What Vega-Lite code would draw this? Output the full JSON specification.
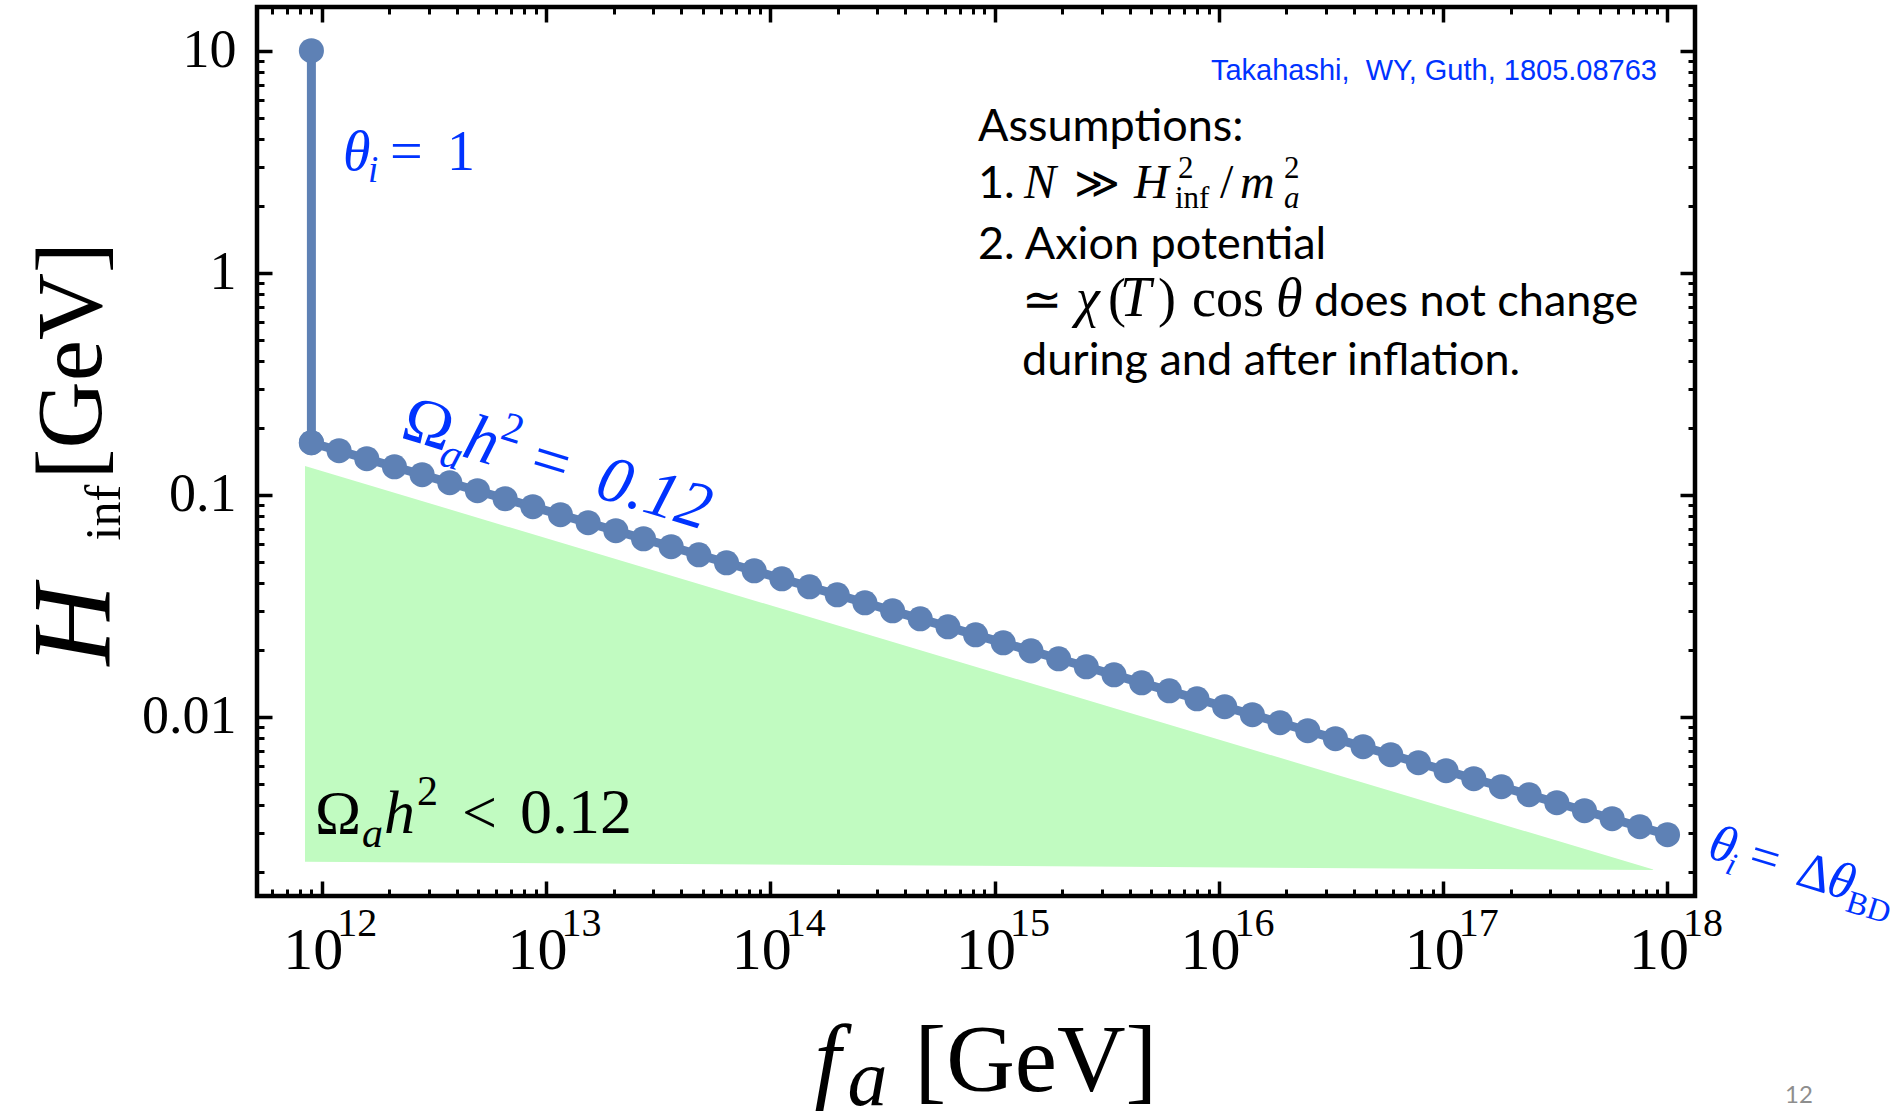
{
  "$schema": "https://vega.github.io/schema/vega-lite/v6.json",
  "width": 1438,
  "height": 889,
  "autosize": {"type": "none"},
  "padding": {"left": 257, "top": 7, "right": 202, "bottom": 216},
  "background": "white",
  "config": {
    "view": {"stroke": "black", "strokeWidth": 4.5},
    "axis": {
      "grid": false,
      "domain": false,
      "tickColor": "black",
      "labelColor": "black",
      "titleColor": "black",
      "labelFont": "Liberation Serif",
      "titleFont": "Liberation Serif",
      "titleFontWeight": "normal",
      "labelOverlap": false,
      "labelFlush": false,
      "zindex": 1
    },
    "text": {"font": "Liberation Serif", "align": "left", "baseline": "alphabetic"}
  },
  "datasets": {
    "region": [
      {"f": 8.424e11, "H": 0.1346, "Hlow": 0.002222},
      {"f": 8.796e17, "H": 0.002039, "Hlow": 0.002039}
    ],
    "curve": [
      {"part": "vertical", "f": 8.995e11, "H": 10},
      {"part": "vertical", "f": 8.995e11, "H": 0.1714},
      {"part": "chain", "f": 8.995e11, "H": 0.1714},
      {"part": "chain", "f": 1.195e12, "H": 0.1578},
      {"part": "chain", "f": 1.588e12, "H": 0.1452},
      {"part": "chain", "f": 2.110e12, "H": 0.1336},
      {"part": "chain", "f": 2.803e12, "H": 0.1230},
      {"part": "chain", "f": 3.723e12, "H": 0.1132},
      {"part": "chain", "f": 4.946e12, "H": 0.1042},
      {"part": "chain", "f": 6.572e12, "H": 0.09590},
      {"part": "chain", "f": 8.732e12, "H": 0.08826},
      {"part": "chain", "f": 1.160e13, "H": 0.08122},
      {"part": "chain", "f": 1.541e13, "H": 0.07475},
      {"part": "chain", "f": 2.048e13, "H": 0.06880},
      {"part": "chain", "f": 2.721e13, "H": 0.06331},
      {"part": "chain", "f": 3.614e13, "H": 0.05829},
      {"part": "chain", "f": 4.802e13, "H": 0.05363},
      {"part": "chain", "f": 6.380e13, "H": 0.04935},
      {"part": "chain", "f": 8.477e13, "H": 0.04542},
      {"part": "chain", "f": 1.126e14, "H": 0.04180},
      {"part": "chain", "f": 1.496e14, "H": 0.03847},
      {"part": "chain", "f": 1.988e14, "H": 0.03541},
      {"part": "chain", "f": 2.641e14, "H": 0.03259},
      {"part": "chain", "f": 3.509e14, "H": 0.02999},
      {"part": "chain", "f": 4.661e14, "H": 0.02760},
      {"part": "chain", "f": 6.193e14, "H": 0.02540},
      {"part": "chain", "f": 8.228e14, "H": 0.02338},
      {"part": "chain", "f": 1.093e15, "H": 0.02152},
      {"part": "chain", "f": 1.453e15, "H": 0.01980},
      {"part": "chain", "f": 1.930e15, "H": 0.01823},
      {"part": "chain", "f": 2.564e15, "H": 0.01678},
      {"part": "chain", "f": 3.407e15, "H": 0.01544},
      {"part": "chain", "f": 4.525e15, "H": 0.01421},
      {"part": "chain", "f": 6.012e15, "H": 0.01308},
      {"part": "chain", "f": 7.988e15, "H": 0.01204},
      {"part": "chain", "f": 1.061e16, "H": 0.01109},
      {"part": "chain", "f": 1.410e16, "H": 0.01021},
      {"part": "chain", "f": 1.873e16, "H": 0.009395},
      {"part": "chain", "f": 2.489e16, "H": 0.008647},
      {"part": "chain", "f": 3.307e16, "H": 0.007961},
      {"part": "chain", "f": 4.393e16, "H": 0.007324},
      {"part": "chain", "f": 5.836e16, "H": 0.006742},
      {"part": "chain", "f": 7.754e16, "H": 0.006205},
      {"part": "chain", "f": 1.030e17, "H": 0.005710},
      {"part": "chain", "f": 1.369e17, "H": 0.005256},
      {"part": "chain", "f": 1.818e17, "H": 0.004837},
      {"part": "chain", "f": 2.416e17, "H": 0.004452},
      {"part": "chain", "f": 3.210e17, "H": 0.004097},
      {"part": "chain", "f": 4.264e17, "H": 0.003771},
      {"part": "chain", "f": 5.665e17, "H": 0.003471},
      {"part": "chain", "f": 7.527e17, "H": 0.003194},
      {"part": "chain", "f": 1.000e18, "H": 0.002940}
    ],
    "notes": [
      {"note": "theta1", "f": 1.245e12, "H": 2.902},
      {"note": "omegaLine", "f": 2.211e12, "H": 0.1819},
      {"note": "thetaBD", "f": 1.485e18, "H": 0.002333},
      {"note": "omegaRegion", "f": 9.335e11, "H": 0.002993},
      {"note": "cite", "f": 8.98e17, "H": 7.38, "label": "Takahashi,\u00a0 WY, Guth, 1805.08763"},
      {"note": "heading", "f": 8.433e14, "H": 3.920, "label": "Assumptions:"},
      {"note": "item1", "f": 8.433e14, "H": 2.170},
      {"note": "item2", "f": 8.433e14, "H": 1.153, "label": "2. Axion potential"},
      {"note": "item2b", "f": 8.433e14, "H": 0.6379},
      {"note": "item2c", "f": 8.433e14, "H": 0.3461, "label": "during and after inflation."},
      {"note": "page", "f": 3.857e18, "H": 0.0001819, "label": "12"}
    ]
  },
  "encoding": {
    "x": {"field": "f", "type": "quantitative", "scale": {"type": "log", "domain": [5.146e11, 1.3265e18], "nice": false}, "axis": null},
    "y": {"field": "H", "type": "quantitative", "scale": {"type": "log", "domain": [0.0015572, 15.73], "nice": false}, "axis": null}
  },
  "resolve": {"axis": {"x": "independent", "y": "independent"}},
  "layer": [
    {
      "data": {"name": "region"},
      "mark": {"type": "area", "color": "#c1fbc1", "opacity": 1},
      "encoding": {
        "x": {
          "field": "f", "type": "quantitative",
          "scale": {"type": "log", "domain": [5.146e11, 1.3265e18], "nice": false},
          "axis": {
            "orient": "bottom", "labels": false, "ticks": true,
            "values": [6e11, 7e11, 8e11, 9e11, 1e12, 2e12, 3e12, 4e12, 5e12, 6e12, 7e12, 8e12, 9e12, 1e13, 2e13, 3e13, 4e13, 5e13, 6e13, 7e13, 8e13, 9e13, 1e14, 2e14, 3e14, 4e14, 5e14, 6e14, 7e14, 8e14, 9e14, 1e15, 2e15, 3e15, 4e15, 5e15, 6e15, 7e15, 8e15, 9e15, 1e16, 2e16, 3e16, 4e16, 5e16, 6e16, 7e16, 8e16, 9e16, 1e17, 2e17, 3e17, 4e17, 5e17, 6e17, 7e17, 8e17, 9e17, 1e18],
            "tickSize": {"condition": {"test": "abs(log(datum.value)/LN10 - round(log(datum.value)/LN10)) < 0.001", "value": -15}, "value": -7},
            "tickWidth": {"condition": {"test": "abs(log(datum.value)/LN10 - round(log(datum.value)/LN10)) < 0.001", "value": 3.5}, "value": 3},
            "title": "[GeV]", "titleFontSize": 95, "titleAngle": 0,
            "titleX": 657, "titleY": 194, "titleAlign": "left", "titleBaseline": "alphabetic"
          }
        },
        "y": {
          "field": "H", "type": "quantitative",
          "scale": {"type": "log", "domain": [0.0015572, 15.73], "nice": false},
          "axis": {
            "orient": "left", "labels": false, "ticks": true,
            "values": [0.002, 0.003, 0.004, 0.005, 0.006, 0.007, 0.008, 0.009, 0.01, 0.02, 0.03, 0.04, 0.05, 0.06, 0.07, 0.08, 0.09, 0.1, 0.2, 0.3, 0.4, 0.5, 0.6, 0.7, 0.8, 0.9, 1, 2, 3, 4, 5, 6, 7, 8, 9, 10],
            "tickSize": {"condition": {"test": "abs(log(datum.value)/LN10 - round(log(datum.value)/LN10)) < 0.001", "value": -15}, "value": -7},
            "tickWidth": {"condition": {"test": "abs(log(datum.value)/LN10 - round(log(datum.value)/LN10)) < 0.001", "value": 3.5}, "value": 3},
            "title": "H", "titleFontStyle": "italic", "titleFontSize": 112, "titleAngle": 270,
            "titleX": -149, "titleY": 658, "titleAlign": "left", "titleBaseline": "alphabetic"
          }
        },
        "y2": {"field": "Hlow"}
      }
    },
    {
      "data": {"name": "curve"},
      "transform": [{"filter": "datum.part == 'vertical'"}],
      "mark": {"type": "line", "color": "#5e81b5", "strokeWidth": 9},
      "encoding": {
        "x": {
          "field": "f", "type": "quantitative",
          "scale": {"type": "log", "domain": [5.146e11, 1.3265e18], "nice": false},
          "axis": {
            "orient": "bottom", "ticks": false, "labels": true,
            "values": [1e12, 1e13, 1e14, 1e15, 1e16, 1e17, 1e18],
            "labelExpr": "'10'", "labelFontSize": 60, "labelAlign": "center",
            "labelBaseline": "alphabetic", "labelPadding": 72, "labelOffset": -9,
            "title": "f", "titleFontStyle": "italic", "titleFontSize": 95, "titleAngle": 0,
            "titleX": 557, "titleY": 194, "titleAlign": "left", "titleBaseline": "alphabetic"
          }
        },
        "y": {
          "field": "H", "type": "quantitative",
          "scale": {"type": "log", "domain": [0.0015572, 15.73], "nice": false},
          "axis": {
            "orient": "left", "ticks": false, "labels": true,
            "values": [0.01, 0.1, 1, 10],
            "labelExpr": "datum.value >= 5 ? '10' : datum.value >= 0.5 ? '1' : datum.value >= 0.05 ? '0.1' : '0.01'",
            "labelFontSize": 54, "labelAlign": "right", "labelBaseline": "middle", "labelPadding": 21,
            "title": "inf", "titleFontSize": 50, "titleAngle": 270,
            "titleX": -138, "titleY": 533, "titleAlign": "left", "titleBaseline": "alphabetic"
          }
        }
      }
    },
    {
      "data": {"name": "curve"},
      "transform": [{"filter": "datum.part == 'chain'"}],
      "mark": {"type": "line", "color": "#5e81b5", "strokeWidth": 9},
      "encoding": {
        "x": {
          "field": "f", "type": "quantitative",
          "scale": {"type": "log", "domain": [5.146e11, 1.3265e18], "nice": false},
          "axis": {
            "orient": "bottom", "ticks": false, "labels": true,
            "values": [1e12, 1e13, 1e14, 1e15, 1e16, 1e17, 1e18],
            "labelExpr": "'' + round(log(datum.value) / LN10)", "labelFontSize": 40, "labelAlign": "center",
            "labelBaseline": "alphabetic", "labelPadding": 39, "labelOffset": 35,
            "title": "a", "titleFontStyle": "italic", "titleFontSize": 80, "titleAngle": 0,
            "titleX": 590, "titleY": 208, "titleAlign": "left", "titleBaseline": "alphabetic"
          }
        },
        "y": {
          "field": "H", "type": "quantitative",
          "scale": {"type": "log", "domain": [0.0015572, 15.73], "nice": false},
          "axis": {
            "orient": "right", "labels": false, "ticks": true,
            "values": [0.002, 0.003, 0.004, 0.005, 0.006, 0.007, 0.008, 0.009, 0.01, 0.02, 0.03, 0.04, 0.05, 0.06, 0.07, 0.08, 0.09, 0.1, 0.2, 0.3, 0.4, 0.5, 0.6, 0.7, 0.8, 0.9, 1, 2, 3, 4, 5, 6, 7, 8, 9, 10],
            "tickSize": {"condition": {"test": "abs(log(datum.value)/LN10 - round(log(datum.value)/LN10)) < 0.001", "value": -15}, "value": -7},
            "tickWidth": {"condition": {"test": "abs(log(datum.value)/LN10 - round(log(datum.value)/LN10)) < 0.001", "value": 3.5}, "value": 3},
            "title": "[GeV]", "titleFontSize": 93, "titleAngle": 270,
            "titleX": -1595, "titleY": 472, "titleAlign": "left", "titleBaseline": "alphabetic"
          }
        }
      }
    },
    {
      "data": {"name": "curve"},
      "mark": {"type": "circle", "color": "#5e81b5", "opacity": 1, "size": 630},
      "encoding": {
        "x": {
          "field": "f", "type": "quantitative",
          "scale": {"type": "log", "domain": [5.146e11, 1.3265e18], "nice": false},
          "axis": {
            "orient": "top", "labels": false, "ticks": true, "title": null,
            "values": [6e11, 7e11, 8e11, 9e11, 1e12, 2e12, 3e12, 4e12, 5e12, 6e12, 7e12, 8e12, 9e12, 1e13, 2e13, 3e13, 4e13, 5e13, 6e13, 7e13, 8e13, 9e13, 1e14, 2e14, 3e14, 4e14, 5e14, 6e14, 7e14, 8e14, 9e14, 1e15, 2e15, 3e15, 4e15, 5e15, 6e15, 7e15, 8e15, 9e15, 1e16, 2e16, 3e16, 4e16, 5e16, 6e16, 7e16, 8e16, 9e16, 1e17, 2e17, 3e17, 4e17, 5e17, 6e17, 7e17, 8e17, 9e17, 1e18],
            "tickSize": {"condition": {"test": "abs(log(datum.value)/LN10 - round(log(datum.value)/LN10)) < 0.001", "value": -15}, "value": -7},
            "tickWidth": {"condition": {"test": "abs(log(datum.value)/LN10 - round(log(datum.value)/LN10)) < 0.001", "value": 3.5}, "value": 3}
          }
        }
      }
    },
    {
      "data": {"name": "notes"},
      "transform": [{"filter": "datum.note == 'theta1'"}],
      "layer": [
        {"mark": {"type": "text", "text": "θ", "fontStyle": "italic", "fontSize": 56, "color": "#0033ff", "dx": 0}},
        {"mark": {"type": "text", "text": "i", "fontStyle": "italic", "fontSize": 37, "color": "#0033ff", "dx": 25, "dy": 12}},
        {"mark": {"type": "text", "text": "=", "fontSize": 58, "color": "#0033ff", "dx": 47}},
        {"mark": {"type": "text", "text": "1", "fontSize": 56, "color": "#0033ff", "dx": 104}}
      ]
    },
    {
      "data": {"name": "notes"},
      "transform": [{"filter": "datum.note == 'omegaLine'"}],
      "layer": [
        {"mark": {"type": "text", "text": "Ω", "fontSize": 66, "color": "#0033ff", "angle": 17, "dx": 0}},
        {"mark": {"type": "text", "text": "a", "fontStyle": "italic", "fontSize": 42, "color": "#0033ff", "angle": 17, "dx": 45, "dy": 15}},
        {"mark": {"type": "text", "text": "h", "fontStyle": "italic", "fontSize": 66, "color": "#0033ff", "angle": 17, "dx": 64}},
        {"mark": {"type": "text", "text": "2", "fontSize": 42, "color": "#0033ff", "angle": 17, "dx": 96, "dy": -28}},
        {"mark": {"type": "text", "text": "=", "fontSize": 66, "color": "#0033ff", "angle": 17, "dx": 134}},
        {"mark": {"type": "text", "text": "0.12", "fontStyle": "italic", "fontSize": 66, "color": "#0033ff", "angle": 17, "dx": 203}}
      ]
    },
    {
      "data": {"name": "notes"},
      "transform": [{"filter": "datum.note == 'thetaBD'"}],
      "layer": [
        {"mark": {"type": "text", "text": "θ", "fontStyle": "italic", "fontSize": 52, "color": "#0033ff", "angle": 17, "dx": 0}},
        {"mark": {"type": "text", "text": "i", "fontStyle": "italic", "fontSize": 32, "color": "#0033ff", "angle": 17, "dx": 22, "dy": 10}},
        {"mark": {"type": "text", "text": "=", "fontSize": 52, "color": "#0033ff", "angle": 17, "dx": 42}},
        {"mark": {"type": "text", "text": "Δ", "fontSize": 52, "color": "#0033ff", "angle": 17, "dx": 92}},
        {"mark": {"type": "text", "text": "θ", "fontStyle": "italic", "fontSize": 52, "color": "#0033ff", "angle": 17, "dx": 124}},
        {"mark": {"type": "text", "text": "BD", "fontSize": 32, "color": "#0033ff", "angle": 17, "dx": 148, "dy": 11}}
      ]
    },
    {
      "data": {"name": "notes"},
      "transform": [{"filter": "datum.note == 'omegaRegion'"}],
      "layer": [
        {"mark": {"type": "text", "text": "Ω", "fontSize": 62, "color": "black", "dx": 0}},
        {"mark": {"type": "text", "text": "a", "fontStyle": "italic", "fontSize": 42, "color": "black", "dx": 47, "dy": 14}},
        {"mark": {"type": "text", "text": "h", "fontStyle": "italic", "fontSize": 62, "color": "black", "dx": 69}},
        {"mark": {"type": "text", "text": "2", "fontSize": 42, "color": "black", "dx": 102, "dy": -28}},
        {"mark": {"type": "text", "text": "<", "fontSize": 62, "color": "black", "dx": 147}},
        {"mark": {"type": "text", "text": "0.12", "fontSize": 64, "color": "black", "dx": 205}}
      ]
    },
    {
      "data": {"name": "notes"},
      "transform": [{"filter": "datum.note == 'cite'"}],
      "mark": {"type": "text", "font": "Liberation Sans", "fontSize": 29, "color": "#0033ff", "align": "right"},
      "encoding": {"text": {"field": "label"}}
    },
    {
      "data": {"name": "notes"},
      "transform": [{"filter": "datum.note == 'heading' || datum.note == 'item2'"}],
      "mark": {"type": "text", "font": "Lato", "fontSize": 45, "color": "black"},
      "encoding": {"text": {"field": "label"}}
    },
    {
      "data": {"name": "notes"},
      "transform": [{"filter": "datum.note == 'item2c'"}],
      "mark": {"type": "text", "font": "Lato", "fontSize": 45, "color": "black", "dx": 44},
      "encoding": {"text": {"field": "label"}}
    },
    {
      "data": {"name": "notes"},
      "transform": [{"filter": "datum.note == 'item1'"}],
      "layer": [
        {"mark": {"type": "text", "text": "1.", "font": "Lato", "fontSize": 45, "color": "black", "dx": 0}},
        {"mark": {"type": "text", "text": "N", "fontStyle": "italic", "fontSize": 48, "color": "black", "dx": 46}},
        {"mark": {"type": "text", "text": "≫", "fontSize": 44, "color": "black", "dx": 96}},
        {"mark": {"type": "text", "text": "H", "fontStyle": "italic", "fontSize": 48, "color": "black", "dx": 156}},
        {"mark": {"type": "text", "text": "2", "fontSize": 31, "color": "black", "dx": 200, "dy": -20}},
        {"mark": {"type": "text", "text": "inf", "fontSize": 31, "color": "black", "dx": 197, "dy": 10}},
        {"mark": {"type": "text", "text": "/", "fontSize": 48, "color": "black", "dx": 242}},
        {"mark": {"type": "text", "text": "m", "fontStyle": "italic", "fontSize": 48, "color": "black", "dx": 262}},
        {"mark": {"type": "text", "text": "2", "fontSize": 31, "color": "black", "dx": 306, "dy": -20}},
        {"mark": {"type": "text", "text": "a", "fontStyle": "italic", "fontSize": 31, "color": "black", "dx": 306, "dy": 10}}
      ]
    },
    {
      "data": {"name": "notes"},
      "transform": [{"filter": "datum.note == 'item2b'"}],
      "layer": [
        {"mark": {"type": "text", "text": "≃", "fontSize": 48, "color": "black", "dx": 44}},
        {"mark": {"type": "text", "text": "χ", "fontStyle": "italic", "fontSize": 54, "color": "black", "dx": 98}},
        {"mark": {"type": "text", "text": "(", "fontSize": 54, "color": "black", "dx": 130}},
        {"mark": {"type": "text", "text": "T", "fontStyle": "italic", "fontSize": 56, "color": "black", "dx": 142}},
        {"mark": {"type": "text", "text": ")", "fontSize": 54, "color": "black", "dx": 180}},
        {"mark": {"type": "text", "text": "cos", "fontSize": 54, "color": "black", "dx": 214}},
        {"mark": {"type": "text", "text": "θ", "fontStyle": "italic", "fontSize": 54, "color": "black", "dx": 298}},
        {"mark": {"type": "text", "text": "does not change", "font": "Lato", "fontSize": 45, "color": "black", "dx": 336}}
      ]
    },
    {
      "data": {"name": "notes"},
      "transform": [{"filter": "datum.note == 'page'"}],
      "mark": {"type": "text", "font": "Lato", "fontSize": 24, "color": "#8e8e8e", "align": "center"},
      "encoding": {"text": {"field": "label"}}
    }
  ]
}
